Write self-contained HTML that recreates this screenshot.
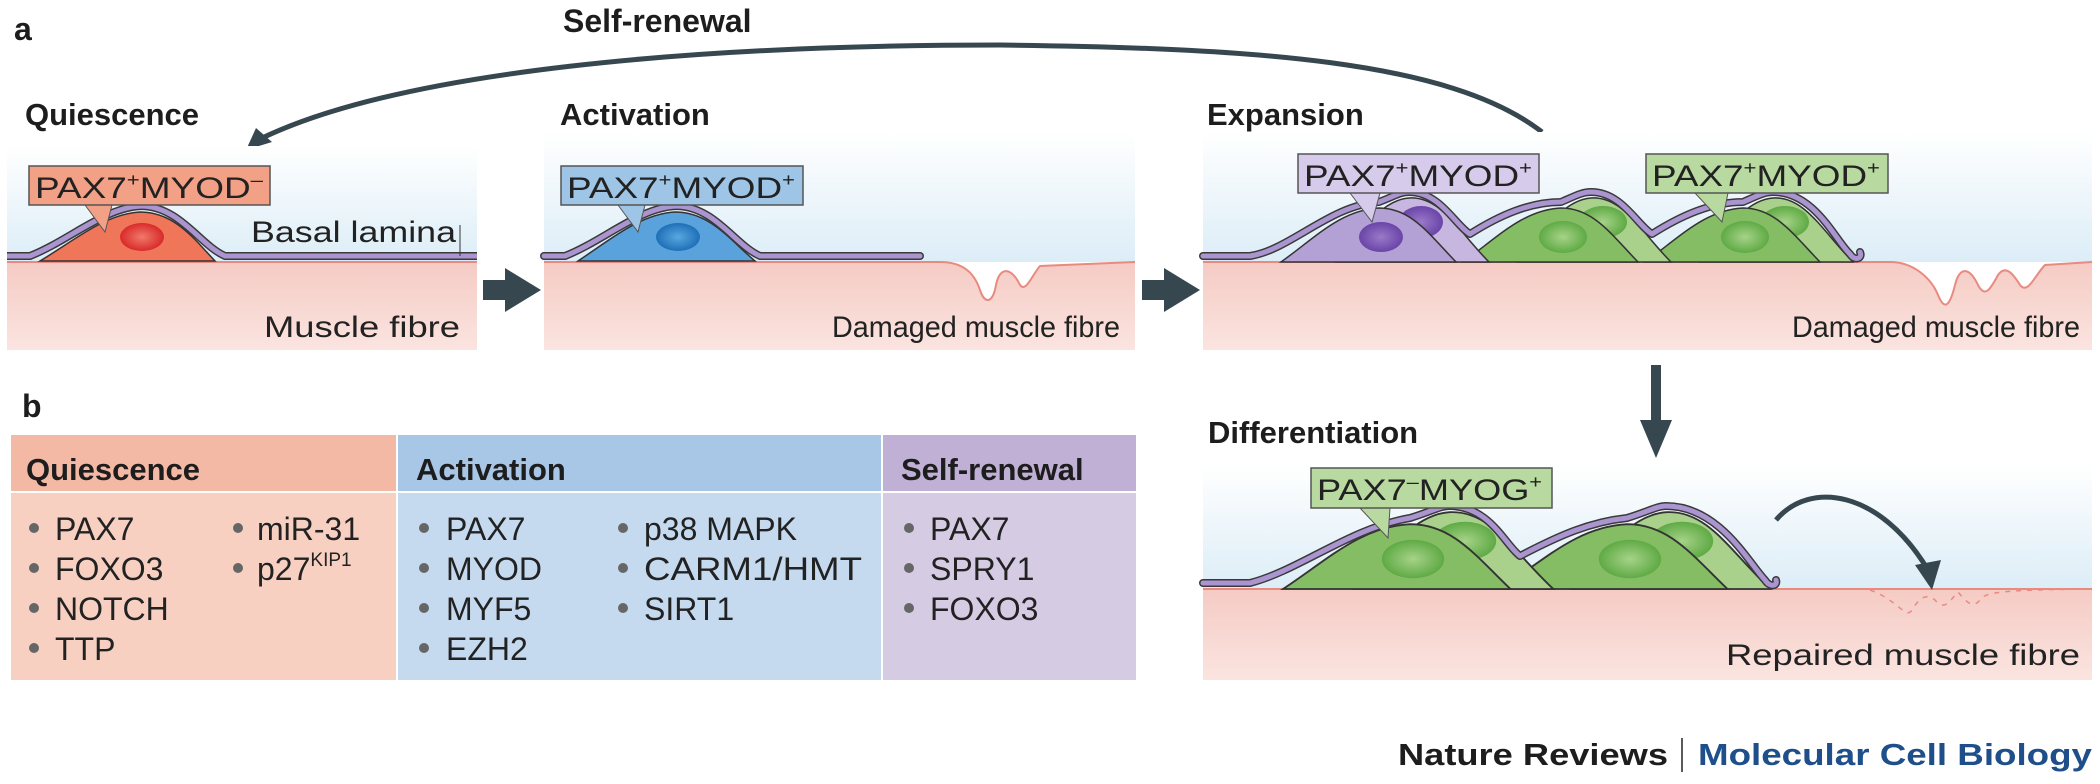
<!DOCTYPE html>
<html><head><meta charset="utf-8"><style>
html,body{margin:0;padding:0;background:#fff;}
svg{display:block;}
text{font-family:"Liberation Sans Narrow","Liberation Sans",sans-serif;fill:#222;}
.b{font-family:"Liberation Sans",sans-serif;font-weight:bold;fill:#1d1d1d;}
</style></head><body>
<svg width="2100" height="784" viewBox="0 0 2100 784" xmlns="http://www.w3.org/2000/svg">
<defs>
<linearGradient id="sky" x1="0" y1="0" x2="0" y2="1"><stop offset="0" stop-color="#ffffff"/><stop offset="1" stop-color="#dcedf7"/></linearGradient>
<linearGradient id="flesh" x1="0" y1="0" x2="0" y2="1"><stop offset="0" stop-color="#f5cbc4"/><stop offset="1" stop-color="#fbe4e0"/></linearGradient>
<radialGradient id="nr" cx=".5" cy=".5" r=".5"><stop offset="0" stop-color="#f07a6a"/><stop offset="1" stop-color="#d92a2a"/></radialGradient>
<radialGradient id="nb" cx=".5" cy=".5" r=".5"><stop offset="0" stop-color="#58a8e0"/><stop offset="1" stop-color="#1f6fb8"/></radialGradient>
<radialGradient id="np" cx=".5" cy=".5" r=".5"><stop offset="0" stop-color="#9a7ac8"/><stop offset="1" stop-color="#6a44a8"/></radialGradient>
<radialGradient id="ng" cx=".5" cy=".5" r=".5"><stop offset="0" stop-color="#a6d388"/><stop offset="1" stop-color="#5faa45"/></radialGradient>
<g id="gpair">
 <path d="M55,0 C80,-30 100,-62 128,-64 C160,-66 178,-30 208,0 Z" fill="#a9d18c" stroke="#333" stroke-width="1.5"/>
 <ellipse cx="140" cy="-40" rx="24" ry="16" fill="url(#ng)"/>
 <path d="M0,0 C35,-25 60,-52 98,-54 C130,-54 148,-28 175,0 Z" fill="#84bd64" stroke="#333" stroke-width="1.5"/>
 <ellipse cx="100" cy="-25" rx="24" ry="16" fill="url(#ng)"/>
</g>
<g id="ppair">
 <path d="M55,0 C80,-30 100,-62 128,-64 C160,-66 178,-30 208,0 Z" fill="#c6b6e0" stroke="#333" stroke-width="1.5"/>
 <ellipse cx="140" cy="-40" rx="22" ry="16" fill="url(#np)"/>
 <path d="M0,0 C35,-25 60,-52 98,-54 C130,-54 148,-28 175,0 Z" fill="#b3a1d6" stroke="#333" stroke-width="1.5"/>
 <ellipse cx="100" cy="-25" rx="22" ry="15" fill="url(#np)"/>
</g>
</defs>

<!-- panel a labels -->
<text class="b" x="14" y="40" font-size="32">a</text>
<text class="b" x="563" y="32" font-size="32">Self-renewal</text>
<text class="b" x="25" y="125" font-size="31">Quiescence</text>
<text class="b" x="560" y="125" font-size="31">Activation</text>
<text class="b" x="1207" y="125" font-size="31">Expansion</text>

<!-- self renewal arc -->
<path d="M1542,132 C1450,60 1250,48 1000,45 C700,45 400,70 258,140" fill="none" stroke="#37474f" stroke-width="5"/>
<polygon points="246,150 256,128 272,142" fill="#37474f"/>

<!-- Panel 1 -->
<rect x="7" y="146" width="470" height="116" fill="url(#sky)"/>
<rect x="7" y="262" width="470" height="88" fill="url(#flesh)"/>
<line x1="7" y1="262" x2="477" y2="262" stroke="#e98a80" stroke-width="2"/>
<path d="M40,261 C75,240 105,214 140,212 C175,212 195,240 215,261 Z" fill="#ef7658" stroke="#333" stroke-width="1.5"/>
<ellipse cx="142" cy="237" rx="22" ry="14" fill="url(#nr)"/>
<path d="M7,256 L30,256 C70,240 105,207 142,206 C180,207 200,245 225,256 L477,256" fill="none" stroke="#3a3a3a" stroke-width="8"/>
<path d="M7,256 L30,256 C70,240 105,207 142,206 C180,207 200,245 225,256 L477,256" fill="none" stroke="#ab95d1" stroke-width="5"/>
<line x1="460" y1="225" x2="460" y2="256" stroke="#333" stroke-width="1"/>
<text x="251" y="242" font-size="30" textLength="205" lengthAdjust="spacingAndGlyphs">Basal lamina</text>
<text x="264" y="337" font-size="30" textLength="196" lengthAdjust="spacingAndGlyphs">Muscle fibre</text>
<polygon points="85,205 105,232 112,205" fill="#f2a186" stroke="#555" stroke-width="1"/>
<rect x="29" y="166" width="241" height="39" fill="#f2a186" stroke="#555" stroke-width="1.5"/>
<text x="35" y="198" font-size="30" textLength="228" lengthAdjust="spacingAndGlyphs">PAX7<tspan font-size="18" dy="-12">+</tspan><tspan dy="12">MYOD</tspan><tspan font-size="18" dy="-12">–</tspan></text>

<!-- arrow 1 -->
<polygon points="483,280 505,280 505,268 541,290 505,312 505,300 483,300" fill="#37474f"/>

<!-- Panel 2 -->
<rect x="544" y="132" width="591" height="130" fill="url(#sky)"/>
<path d="M544,262 L940,262 C965,262 975,275 980,290 C985,305 993,303 996,285 C1000,265 1012,268 1020,285 C1026,293 1032,275 1040,266 L1135,262 L1135,350 L544,350 Z" fill="url(#flesh)"/>
<path d="M544,262 L940,262 C965,262 975,275 980,290 C985,305 993,303 996,285 C1000,265 1012,268 1020,285 C1026,293 1032,275 1040,266 L1135,262" fill="none" stroke="#e98a80" stroke-width="2"/>
<path d="M578,261 C610,240 640,214 675,212 C710,212 730,240 755,261 Z" fill="#5aa2dc" stroke="#333" stroke-width="1.5"/>
<ellipse cx="678" cy="237" rx="22" ry="14" fill="url(#nb)"/>
<path d="M544,256 L565,256 C605,240 640,207 677,206 C715,207 735,245 760,256 L920,256" fill="none" stroke="#3a3a3a" stroke-width="8" stroke-linecap="round"/>
<path d="M544,256 L565,256 C605,240 640,207 677,206 C715,207 735,245 760,256 L920,256" fill="none" stroke="#ab95d1" stroke-width="5" stroke-linecap="round"/>
<text x="832" y="337" font-size="30" textLength="288" lengthAdjust="spacingAndGlyphs">Damaged muscle fibre</text>
<polygon points="618,205 638,232 645,205" fill="#9ec5e6" stroke="#555" stroke-width="1"/>
<rect x="561" y="166" width="242" height="39" fill="#9ec5e6" stroke="#555" stroke-width="1.5"/>
<text x="567" y="198" font-size="30" textLength="228" lengthAdjust="spacingAndGlyphs">PAX7<tspan font-size="18" dy="-12">+</tspan><tspan dy="12">MYOD</tspan><tspan font-size="18" dy="-12">+</tspan></text>

<!-- arrow 2 -->
<polygon points="1142,280 1164,280 1164,268 1200,290 1164,312 1164,300 1142,300" fill="#37474f"/>

<!-- Panel 3 -->
<rect x="1203" y="132" width="889" height="130" fill="url(#sky)"/>
<path d="M1203,262 L1890,262 C1915,262 1932,280 1938,295 C1945,312 1950,305 1955,285 C1960,265 1970,268 1978,285 C1985,298 1990,290 1998,275 C2005,265 2012,272 2020,285 C2028,295 2035,275 2045,265 L2092,262 L2092,350 L1203,350 Z" fill="url(#flesh)"/>
<path d="M1203,262 L1890,262 C1915,262 1932,280 1938,295 C1945,312 1950,305 1955,285 C1960,265 1970,268 1978,285 C1985,298 1990,290 1998,275 C2005,265 2012,272 2020,285 C2028,295 2035,275 2045,265 L2092,262" fill="none" stroke="#e98a80" stroke-width="2"/>
<use href="#gpair" transform="translate(1645,262)"/>
<use href="#gpair" transform="translate(1463,262)"/>
<use href="#ppair" transform="translate(1281,262)"/>
<path id="lam3" d="M1203,256 L1250,256 C1290,250 1330,205 1379,202 C1395,196 1400,192 1409,192 C1440,192 1455,225 1470,234 C1500,215 1530,202 1561,202 C1575,196 1582,192 1591,192 C1622,192 1637,225 1652,234 C1682,215 1712,202 1743,202 C1757,196 1764,192 1773,192 C1815,192 1835,240 1850,254 C1855,262 1863,258 1860,252" fill="none" stroke="#3a3a3a" stroke-width="8" stroke-linejoin="round" stroke-linecap="round"/>
<path d="M1203,256 L1250,256 C1290,250 1330,205 1379,202 C1395,196 1400,192 1409,192 C1440,192 1455,225 1470,234 C1500,215 1530,202 1561,202 C1575,196 1582,192 1591,192 C1622,192 1637,225 1652,234 C1682,215 1712,202 1743,202 C1757,196 1764,192 1773,192 C1815,192 1835,240 1850,254 C1855,262 1863,258 1860,252" fill="none" stroke="#ab95d1" stroke-width="5" stroke-linejoin="round" stroke-linecap="round"/>
<text x="1792" y="337" font-size="30" textLength="288" lengthAdjust="spacingAndGlyphs">Damaged muscle fibre</text>
<polygon points="1350,193 1372,222 1380,193" fill="#d6cbea" stroke="#555" stroke-width="1"/>
<rect x="1298" y="154" width="241" height="39" fill="#d6cbea" stroke="#555" stroke-width="1.5"/>
<text x="1304" y="186" font-size="30" textLength="228" lengthAdjust="spacingAndGlyphs">PAX7<tspan font-size="18" dy="-12">+</tspan><tspan dy="12">MYOD</tspan><tspan font-size="18" dy="-12">+</tspan></text>
<polygon points="1695,193 1722,222 1728,193" fill="#b8d9a0" stroke="#555" stroke-width="1"/>
<rect x="1646" y="154" width="242" height="39" fill="#b8d9a0" stroke="#555" stroke-width="1.5"/>
<text x="1652" y="186" font-size="30" textLength="228" lengthAdjust="spacingAndGlyphs">PAX7<tspan font-size="18" dy="-12">+</tspan><tspan dy="12">MYOD</tspan><tspan font-size="18" dy="-12">+</tspan></text>

<!-- down arrow -->
<rect x="1651" y="365" width="10" height="60" fill="#37474f"/>
<polygon points="1640,420 1672,420 1656,458" fill="#37474f"/>

<!-- Differentiation -->
<text class="b" x="1208" y="443" font-size="31">Differentiation</text>
<rect x="1203" y="465" width="889" height="124" fill="url(#sky)"/>
<rect x="1203" y="589" width="889" height="91" fill="url(#flesh)"/>
<line x1="1203" y1="589" x2="2092" y2="589" stroke="#e98a80" stroke-width="2"/>
<use href="#gpair" transform="translate(1500,589) scale(1.3,1.2)"/>
<use href="#gpair" transform="translate(1283,589) scale(1.3,1.2)"/>
<path d="M1203,583 L1250,583 C1300,570 1350,528 1410,518 C1430,512 1440,506 1449,506 C1490,506 1505,545 1520,556 C1560,535 1590,522 1627,518 C1647,512 1657,506 1666,506 C1720,506 1750,565 1765,580 C1770,588 1778,586 1776,580" fill="none" stroke="#3a3a3a" stroke-width="8" stroke-linejoin="round" stroke-linecap="round"/>
<path d="M1203,583 L1250,583 C1300,570 1350,528 1410,518 C1430,512 1440,506 1449,506 C1490,506 1505,545 1520,556 C1560,535 1590,522 1627,518 C1647,512 1657,506 1666,506 C1720,506 1750,565 1765,580 C1770,588 1778,586 1776,580" fill="none" stroke="#ab95d1" stroke-width="5" stroke-linejoin="round" stroke-linecap="round"/>
<path d="M1870,590 C1898,600 1906,620 1912,610 C1918,600 1925,592 1935,600 C1945,612 1950,600 1958,592 C1965,600 1972,610 1980,600 C1985,592 2000,590 2092,589" fill="none" stroke="#e98a80" stroke-width="1.5" stroke-dasharray="5,6"/>
<path d="M1776,520 C1810,480 1880,490 1928,570" fill="none" stroke="#37474f" stroke-width="5"/>
<polygon points="1915,565 1941,560 1932,590" fill="#37474f"/>
<text x="1726" y="665" font-size="30" textLength="354" lengthAdjust="spacingAndGlyphs">Repaired muscle fibre</text>
<polygon points="1360,508 1388,538 1390,508" fill="#b8d9a0" stroke="#555" stroke-width="1"/>
<rect x="1311" y="468" width="241" height="40" fill="#b8d9a0" stroke="#555" stroke-width="1.5"/>
<text x="1317" y="500" font-size="30" textLength="225" lengthAdjust="spacingAndGlyphs">PAX7<tspan font-size="18" dy="-12">–</tspan><tspan dy="12">MYOG</tspan><tspan font-size="18" dy="-12">+</tspan></text>

<!-- panel b -->
<text class="b" x="22" y="417" font-size="32">b</text>
<rect x="11" y="435" width="385" height="56" fill="#f4b9a5"/>
<rect x="398" y="435" width="483" height="56" fill="#a8c6e6"/>
<rect x="883" y="435" width="253" height="56" fill="#c1b0d6"/>
<rect x="11" y="493" width="385" height="187" fill="#f7d0c2"/>
<rect x="398" y="493" width="483" height="187" fill="#c5daef"/>
<rect x="883" y="493" width="253" height="187" fill="#d5cbe3"/>
<text class="b" x="26" y="480" font-size="31">Quiescence</text>
<text class="b" x="416" y="480" font-size="31">Activation</text>
<text class="b" x="901" y="480" font-size="31">Self-renewal</text>
<g fill="#666">
<circle cx="34" cy="528" r="5"/><circle cx="34" cy="568" r="5"/><circle cx="34" cy="608" r="5"/><circle cx="34" cy="648" r="5"/>
<circle cx="238" cy="528" r="5"/><circle cx="238" cy="568" r="5"/>
<circle cx="424" cy="528" r="5"/><circle cx="424" cy="568" r="5"/><circle cx="424" cy="608" r="5"/><circle cx="424" cy="648" r="5"/>
<circle cx="623" cy="528" r="5"/><circle cx="623" cy="568" r="5"/><circle cx="623" cy="608" r="5"/>
<circle cx="909" cy="528" r="5"/><circle cx="909" cy="568" r="5"/><circle cx="909" cy="608" r="5"/>
</g>
<g font-size="32">
<text x="55" y="540">PAX7</text><text x="55" y="580">FOXO3</text><text x="55" y="620">NOTCH</text><text x="55" y="660">TTP</text>
<text x="257" y="540">miR-31</text><text x="257" y="580">p27<tspan font-size="19" dy="-14">KIP1</tspan></text>
<text x="446" y="540">PAX7</text><text x="446" y="580">MYOD</text><text x="446" y="620">MYF5</text><text x="446" y="660">EZH2</text>
<text x="644" y="540">p38 MAPK</text><text x="644" y="580" textLength="218" lengthAdjust="spacingAndGlyphs">CARM1/HMT</text><text x="644" y="620">SIRT1</text>
<text x="930" y="540">PAX7</text><text x="930" y="580">SPRY1</text><text x="930" y="620">FOXO3</text>
</g>

<!-- footer -->
<text class="b" x="1398" y="765" font-size="31" textLength="270" lengthAdjust="spacingAndGlyphs">Nature Reviews</text>
<line x1="1682" y1="738" x2="1682" y2="772" stroke="#222" stroke-width="1.5"/>
<text class="b" x="1698" y="765" font-size="31" style="fill:#1f4f8a" textLength="394" lengthAdjust="spacingAndGlyphs">Molecular Cell Biology</text>
</svg>
</body></html>
